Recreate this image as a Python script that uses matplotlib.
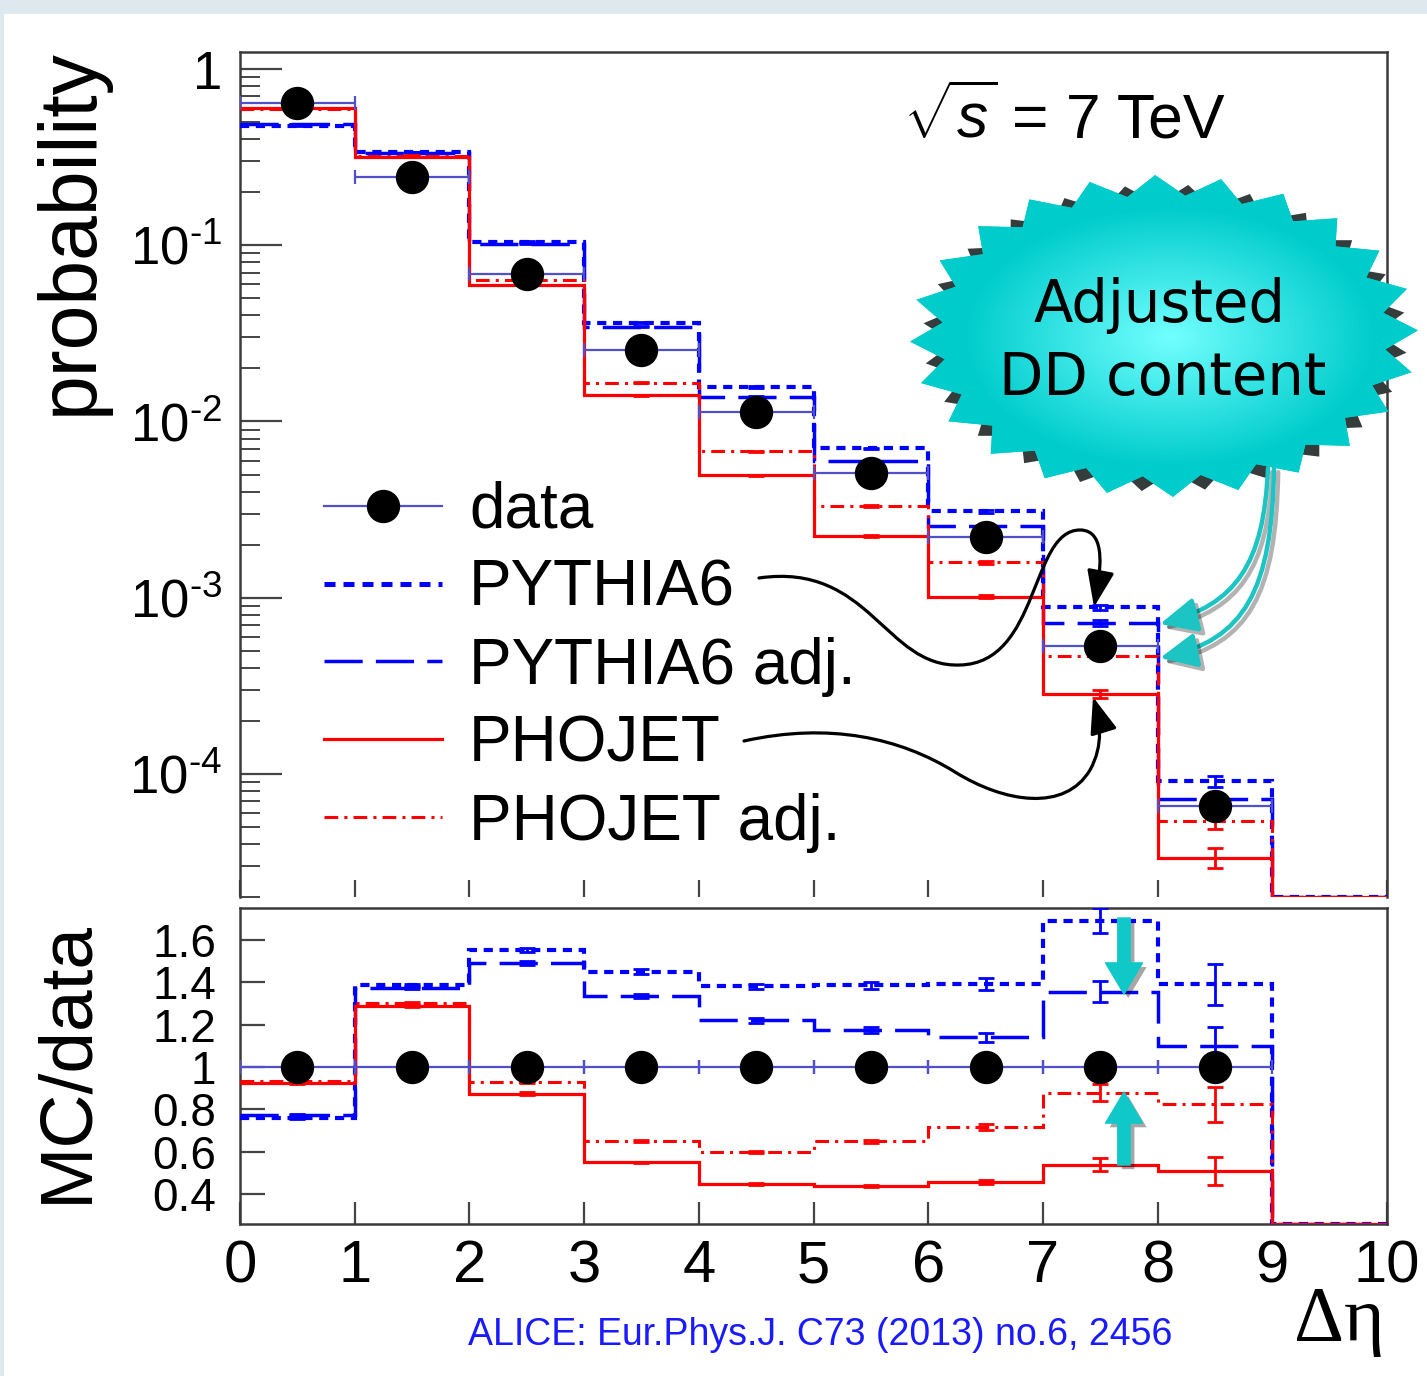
import numpy as np
import matplotlib
matplotlib.use('Agg')
import matplotlib.pyplot as plt
from matplotlib.patches import Polygon, Rectangle, FancyArrowPatch
from matplotlib.path import Path
from matplotlib.lines import Line2D
import matplotlib.patheffects as pe
from matplotlib.ticker import FixedLocator, FixedFormatter, NullFormatter, LogLocator

plt.rcParams['font.family'] = ['Liberation Sans', 'DejaVu Sans']
plt.rcParams['mathtext.fontset'] = 'custom'
plt.rcParams['mathtext.rm'] = 'Liberation Sans'
plt.rcParams['mathtext.it'] = 'Liberation Sans:italic'
plt.rcParams['mathtext.default'] = 'regular'

# ---------------- data ----------------
bin_edges = [0, 1, 2, 3, 4, 5, 6, 7, 8, 9, 10]
bin_centers = [0.5, 1.5, 2.5, 3.5, 4.5, 5.5, 6.5, 7.5, 8.5, 9.5]
data_x = [0.5, 1.5, 2.5, 3.5, 4.5, 5.5, 6.5, 7.5, 8.5]
data_prob = [0.64, 0.244, 0.0689, 0.0256, 0.01125, 0.00507, 0.0022, 0.000531, 6.6e-5]
data_relerr = [0.002, 0.002, 0.003, 0.004, 0.005, 0.006, 0.008, 0.015, 0.04]

pythia6 = [0.478, 0.339, 0.105, 0.0363, 0.0157, 0.00703, 0.00309, 0.000883, 9.1e-5, 0]
pythia6_adj = [0.488, 0.335, 0.102, 0.0345, 0.0138, 0.00593, 0.00254, 0.000716, 7.2e-5, 0]
phojet = [0.60, 0.317, 0.0597, 0.0141, 0.00494, 0.00224, 0.00101, 0.000284, 3.34e-5, 0]
phojet_adj = [0.59, 0.322, 0.0638, 0.0166, 0.00676, 0.00331, 0.00159, 0.000467, 5.4e-5, 0]

relerr_pythia6 = [0.004, 0.004, 0.006, 0.008, 0.01, 0.012, 0.02, 0.035, 0.07, 0]
relerr_pythia6_adj = [0.004, 0.004, 0.006, 0.008, 0.01, 0.012, 0.02, 0.037, 0.08, 0]
relerr_phojet = [0.004, 0.004, 0.006, 0.008, 0.01, 0.012, 0.02, 0.055, 0.13, 0]
relerr_phojet_adj = [0.004, 0.004, 0.006, 0.008, 0.01, 0.012, 0.02, 0.045, 0.10, 0]

data_ratio = [1, 1, 1, 1, 1, 1, 1, 1, 1]
ratio_pythia6 = [0.76, 1.385, 1.55, 1.45, 1.38, 1.385, 1.39, 1.69, 1.39, 0]
ratio_pythia6_adj = [0.775, 1.375, 1.49, 1.335, 1.22, 1.175, 1.14, 1.355, 1.10, 0]
ratio_phojet = [0.925, 1.29, 0.875, 0.55, 0.447, 0.44, 0.46, 0.54, 0.51, 0]
ratio_phojet_adj = [0.935, 1.30, 0.93, 0.65, 0.60, 0.65, 0.717, 0.88, 0.825, 0]

HY = '\u2010'
top_yticks = [1e-4, 1e-3, 1e-2, 1e-1, 1]
top_yticklabels = ['$10^{' + HY + '4}$', '$10^{' + HY + '3}$', '$10^{' + HY + '2}$',
                   '$10^{' + HY + '1}$', '1']
ratio_yticks = [0.4, 0.6, 0.8, 1.0, 1.2, 1.4, 1.6]
ratio_yticklabels = ['0.4', '0.6', '0.8', '1', '1.2', '1.4', '1.6']
xticks = [0, 1, 2, 3, 4, 5, 6, 7, 8, 9, 10]
xticklabels = ['0', '1', '2', '3', '4', '5', '6', '7', '8', '9', '10']

labels = ['data', 'PYTHIA6', 'PYTHIA6 adj.', 'PHOJET', 'PHOJET adj.']

# ---------------- styles ----------------
W, H = 1427, 1376
DCOL = '#5050c8'
styles = {
    'PYTHIA6': dict(color='#0000ff', lw=3.0, ls=(0, (2.2, 1.6))),
    'PYTHIA6 adj.': dict(color='#0000ff', lw=2.5, ls=(0, (11, 3.8))),
    'PHOJET': dict(color='#ff0000', lw=2.3, ls='-'),
    'PHOJET adj.': dict(color='#ff0000', lw=2.2, ls=(0, (4.5, 2, 1, 2))),
}
mc_top = [('PYTHIA6', pythia6, relerr_pythia6), ('PYTHIA6 adj.', pythia6_adj, relerr_pythia6_adj),
          ('PHOJET', phojet, relerr_phojet), ('PHOJET adj.', phojet_adj, relerr_phojet_adj)]
mc_ratio = [('PYTHIA6', ratio_pythia6, relerr_pythia6), ('PYTHIA6 adj.', ratio_pythia6_adj, relerr_pythia6_adj),
            ('PHOJET', ratio_phojet, relerr_phojet), ('PHOJET adj.', ratio_phojet_adj, relerr_phojet_adj)]

fig = plt.figure(figsize=(W / 100, H / 100), dpi=100, facecolor='#dde9ef')
fig.patches.append(Rectangle((4 / W, 0), 1 - 4 / W, 1 - 14 / H, transform=fig.transFigure,
                             facecolor='white', edgecolor='none', zorder=-10))

ax1 = fig.add_axes([240 / W, 1 - 897 / H, (1387 - 240) / W, (897 - 52) / H])
ax2 = fig.add_axes([240 / W, 1 - 1224 / H, (1387 - 240) / W, (1224 - 908) / H])

SPC = '#3a3a3a'
for ax in (ax1, ax2):
    for s in ax.spines.values():
        s.set_linewidth(1.8)
        s.set_color(SPC)
ax1.spines['bottom'].set_visible(False)

# ---------------- top panel ----------------
ax1.set_yscale('log')
ax1.set_xlim(0, 10)
ax1.set_ylim(2.0e-5, 1.25)
ylo = ax1.get_ylim()[0]
for name, vals, rel in mc_top:
    st = styles[name]
    v = np.array(vals, dtype=float)
    ax1.stairs(np.maximum(v, ylo), bin_edges, baseline=None, color=st['color'],
               lw=st['lw'], ls=st['ls'], zorder=3)
    m = v > 0
    ax1.errorbar(np.array(bin_centers)[m], v[m], yerr=v[m] * np.array(rel)[m], fmt='none',
                 ecolor=st['color'], elinewidth=2.0, capsize=6, capthick=2.0, zorder=3)
ax1.errorbar(data_x, data_prob, xerr=0.5, yerr=np.array(data_prob) * np.array(data_relerr),
             fmt='o', ms=23, mfc='black', mec='black', color=DCOL, elinewidth=1.6,
             capsize=5, capthick=1.6, zorder=5)

ax1.yaxis.set_major_locator(FixedLocator(top_yticks))
ax1.yaxis.set_major_formatter(FixedFormatter(top_yticklabels))
ax1.yaxis.set_minor_locator(LogLocator(base=10, subs=np.arange(2, 10), numticks=30))
ax1.yaxis.set_minor_formatter(NullFormatter())
ax1.tick_params(axis='y', which='major', direction='in', length=30, width=1.6, color='#444444',
                labelsize=38, pad=13)
ax1.tick_params(axis='y', which='minor', direction='in', length=14.5, width=1.4, color='#444444')
ax1.set_xticks(xticks)
ax1.tick_params(axis='x', which='both', direction='in', length=12, width=1.6, color='#444444',
                labelbottom=False)
ax1.xaxis.set_minor_locator(FixedLocator([]))

handles = [Line2D([], [], color=DCOL, lw=1.6, marker='o', ms=23, mfc='black', mec='black')]
for name in labels[1:]:
    st = styles[name]
    handles.append(Line2D([], [], color=st['color'], lw=st['lw'] * 1.2 if name == 'PYTHIA6' else st['lw'], ls=st['ls']))
ax1.legend(handles, labels, loc='upper left', bbox_to_anchor=(324 / W, 1 - 481 / H),
           bbox_transform=fig.transFigure, frameon=False, fontsize=46, handlelength=1.85,
           handletextpad=0.42, labelspacing=0.28, borderpad=0, borderaxespad=0, numpoints=1)

# ---------------- ratio panel ----------------
ax2.set_xlim(0, 10)
ax2.set_ylim(0.26, 1.75)
rlo = ax2.get_ylim()[0]
for name, vals, rel in mc_ratio:
    st = styles[name]
    v = np.array(vals, dtype=float)
    ax2.stairs(np.maximum(v, rlo), bin_edges, baseline=None, color=st['color'],
               lw=st['lw'], ls=st['ls'], zorder=3)
    m = v > 0
    ax2.errorbar(np.array(bin_centers)[m], v[m], yerr=v[m] * np.array(rel)[m], fmt='none',
                 ecolor=st['color'], elinewidth=2.0, capsize=6, capthick=2.0, zorder=3)
ax2.errorbar(data_x, data_ratio, xerr=0.5, fmt='o', ms=23, mfc='black', mec='black',
             color=DCOL, elinewidth=1.6, capsize=5, capthick=1.6, zorder=5)
ax2.set_yticks(ratio_yticks)
ax2.set_yticklabels(ratio_yticklabels)
ax2.set_xticks(xticks)
ax2.set_xticklabels(xticklabels)
ax2.tick_params(axis='y', direction='in', length=18, width=1.6, color='#444444', labelsize=33, pad=17)
ax2.tick_params(axis='x', direction='in', length=16, width=1.6, color='#444444', labelsize=43, pad=11)

# ---------------- texts ----------------
fig.text(71 / W, 1 - 48 / H, 'probability', rotation=90, ha='center', va='top', fontsize=58)
fig.text(67 / W, 1 - 920 / H, 'MC/data', rotation=90, ha='center', va='top', fontsize=54)
fig.text(998 / W, 1 - 138 / H, r'$\sqrt{\mathit{s}}$', ha='right', va='baseline', fontsize=45)
fig.text(1012 / W, 1 - 138 / H, '= 7 TeV', ha='left', va='baseline', fontsize=45)
fig.text(1385 / W, 1 - 1340 / H, 'Δη', ha='right', va='baseline', fontsize=56,
         family=['Liberation Serif', 'DejaVu Serif'])
fig.text(820 / W, 1 - 1345 / H, 'ALICE: Eur.Phys.J. C73 (2013) no.6, 2456', ha='center',
         va='baseline', fontsize=27, color='#1a1aff')

# ---------------- overlay annotations (pixel coords) ----------------
ov = fig.add_axes([0, 0, 1, 1], zorder=10)
ov.set_xlim(0, W)
ov.set_ylim(H, 0)
ov.axis('off')
ov.patch.set_alpha(0)


def star_xy(cx, cy, a, b, n, inner, rot):
    k = np.arange(2 * n)
    t = np.deg2rad(rot + k * 180.0 / n)
    r = np.where(k % 2 == 0, 1.0, inner)
    return np.column_stack([cx + a * r * np.cos(t), cy - b * r * np.sin(t)])


CX, CY, A, B = 1164, 336, 254, 161
shadow = Polygon(star_xy(CX + 1, CY + 2, A * 0.955, B * 0.955, 24, 0.87, 2 + 7.5),
                 closed=True, facecolor='#343c3c', edgecolor='none', zorder=1)
ov.add_patch(shadow)
starp = Polygon(star_xy(CX, CY, A, B, 24, 0.875, 2), closed=True, facecolor='#00cccc',
                edgecolor='none', zorder=2)
ov.add_patch(starp)
gx = np.linspace(900, 1430, 300)
gy = np.linspace(165, 505, 200)
GX, GY = np.meshgrid(gx, gy)
d = np.sqrt(((GX - 1170) / 230) ** 2 + ((GY - 337) / 145) ** 2)
f = np.clip(d / 0.9, 0, 1)[..., None]
c0 = np.array([0.45, 1.0, 1.0])
c1 = np.array([0.0, 0.80, 0.80])
img = c0 * (1 - f) + c1 * f
im = ov.imshow(img, extent=(900, 1430, 505, 165), origin='upper', zorder=3, aspect='auto',
               interpolation='bilinear')
im.set_clip_path(starp)
ov.set_xlim(0, W)
ov.set_ylim(H, 0)
ov.text(1160, 322, 'Adjusted', ha='center', va='baseline', fontsize=41.5, family='DejaVu Sans', zorder=4)
ov.text(1163, 395, 'DD content', ha='center', va='baseline', fontsize=41.5, family='DejaVu Sans', zorder=4)

line_shadow = [pe.SimpleLineShadow(offset=(3, -3), shadow_color='black', alpha=0.3), pe.Normal()]
patch_shadow = [pe.SimplePatchShadow(offset=(3, -3), shadow_rgbFace='black', alpha=0.35), pe.Normal()]
C4 = [Path.MOVETO, Path.CURVE4, Path.CURVE4, Path.CURVE4]
cyan = '#1cc4c4'
for verts in ([(1268, 468), (1264, 565), (1235, 605), (1160, 624)],
              [(1274, 468), (1272, 590), (1245, 640), (1160, 658)]):
    arr = FancyArrowPatch(path=Path(verts, C4), arrowstyle='-|>,head_length=0.75,head_width=0.35',
                          mutation_scale=30, color=cyan, lw=3.2, zorder=5, path_effects=line_shadow)
    ov.add_patch(arr)

C10 = [Path.MOVETO] + [Path.CURVE4] * 9
p1 = [(759, 578), (870, 562), (885, 668), (960, 665),
      (1040, 663), (1030, 530), (1080, 530),
      (1108, 530), (1100, 575), (1094, 607)]
p2 = [(744, 741), (830, 722), (900, 738), (955, 772),
      (1005, 803), (1065, 812), (1090, 770),
      (1104, 745), (1100, 720), (1093, 697)]
for verts in (p1, p2):
    arr = FancyArrowPatch(path=Path(verts, C10), arrowstyle='-|>,head_length=0.8,head_width=0.3',
                          mutation_scale=28, color='black', lw=2.3, zorder=5)
    ov.add_patch(arr)

for a0, a1 in (((1124, 918), (1124, 994)), ((1124, 1165), (1124, 1092))):
    arr = FancyArrowPatch(posA=a0, posB=a1, arrowstyle='simple,head_length=0.8,head_width=0.95,tail_width=0.32',
                          mutation_scale=28, color='#10c8c8', shrinkA=0, shrinkB=0, zorder=5,
                          path_effects=patch_shadow)
    ov.add_patch(arr)

fig.savefig('out.png', dpi=100, facecolor=fig.get_facecolor())
